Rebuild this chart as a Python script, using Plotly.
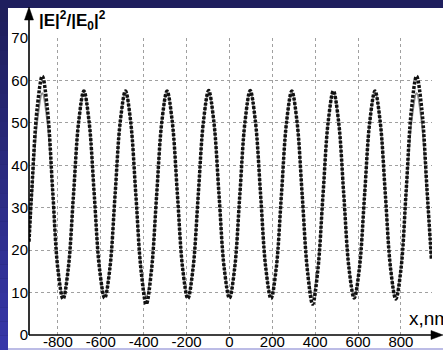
import plotly.graph_objects as go

# ---- data ----
x_nm = [-935, -921.5, -897.25, -873, -848.75, -824.5, -800.25, -776, -751.75, -727.5, -703.25,
        -679, -654.75, -630.5, -606.25, -582, -557.75, -533.5, -509.25, -485, -460.75,
        -436.5, -412.25, -388, -363.75, -339.5, -315.25, -291, -266.75, -242.5, -218.25,
        -194, -169.75, -145.5, -121.25, -97, -72.75, -48.5, -24.25, 0,
        24.25, 48.5, 72.75, 97, 121.25, 145.5, 169.75, 194, 218.25, 242.5, 266.75, 291,
        315.25, 339.5, 363.75, 388, 412.25, 436.5, 460.75, 485, 509.25, 533.5, 557.75,
        582, 606.25, 630.5, 654.75, 679, 703.25, 727.5, 751.75, 776, 800.25, 824.5,
        848.75, 873, 897.25, 921.5, 942]

# numerical result (black dotted)
e_num = [22, 34.5, 53.3, 61.0, 53.0, 34, 15.5, 8.5, 15.7, 33, 50.3,
         57.5, 50.3, 33, 15.7, 8.7, 15.7, 33, 50.3, 57.5, 50.3,
         33, 15.2, 7.3, 15.2, 33, 50.3, 57.5, 50.3, 33, 15.7,
         8.6, 15.7, 33, 50.3, 57.6, 50.3, 33, 15.7, 8.7,
         15.7, 33, 50.3, 57.6, 50.3, 33, 15.7, 8.6, 15.7, 33, 50.3, 57.5,
         50.3, 33, 15.2, 7.3, 15.2, 33, 50.3, 57.5, 50.3, 33, 15.7,
         8.7, 15.7, 33, 50.3, 57.5, 50.3, 33, 15.7, 8.5, 15.5, 34,
         53.0, 61.0, 53.3, 34.5, 18]

# analytical result (grey solid)
e_ana = [22, 33, 50.2, 57.0, 50.2, 33, 16, 9.0, 16, 33, 50.2,
         57.3, 50.2, 33, 16, 9.0, 16, 33, 50.2, 57.3, 50.2,
         33, 16, 9.0, 16, 33, 50.2, 57.3, 50.2, 33, 16,
         9.0, 16, 33, 50.2, 57.3, 50.2, 33, 16, 9.0,
         16, 33, 50.2, 57.3, 50.2, 33, 16, 9.0, 16, 33, 50.2, 57.3,
         50.2, 33, 16, 9.0, 16, 33, 50.2, 57.3, 50.2, 33, 16,
         9.0, 16, 33, 50.2, 57.3, 50.2, 33, 16, 9.0, 16, 33,
         50.2, 57.0, 50.2, 33, 18]

x_ticks = [-800, -600, -400, -200, 0, 200, 400, 600, 800]
x_ticktext = ["-800", "-600", "-400", "-200", "0", "200", "400", "600", "800"]
y_ticks = [0, 10, 20, 30, 40, 50, 60, 70]

# ---- layout geometry (pixels) ----
W, H = 443, 350
L, R, T, B = 29, 11, 38, 15
PW, PH = W - L - R, H - T - B


def px(xp):
    return (xp - L) / PW


def py(yp):
    return (H - B - yp) / PH


FONT = "Liberation Sans, Arial, sans-serif"

fig = go.Figure()
fig.add_trace(go.Scatter(x=x_nm, y=e_ana, mode="lines",
                         line=dict(color="#8c8c8c", width=2, shape="spline", smoothing=1.0),
                         showlegend=False, hoverinfo="skip"))
fig.add_trace(go.Scatter(x=x_nm, y=e_num, mode="lines",
                         line=dict(color="#111111", width=3.5, dash="3px,1.5px",
                                   shape="spline", smoothing=1.0),
                         showlegend=False, hoverinfo="skip"))

shapes = []
shapes.append(dict(type="rect", xref="paper", yref="paper", layer="below",
                   x0=px(0), x1=px(W), y0=py(H), y1=py(0),
                   fillcolor="#24246a", line=dict(width=0)))
n = 24
c0 = (0x20, 0x20, 0x5c)
c1 = (0x36, 0x36, 0xa8)
for i in range(n):
    t = i / (n - 1)
    col = "rgb(%d,%d,%d)" % tuple(int(c0[k] + (c1[k] - c0[k]) * t) for k in range(3))
    y0p = 8 + (H - 8) * i / n
    y1p = 8 + (H - 8) * (i + 1) / n
    shapes.append(dict(type="rect", xref="paper", yref="paper", layer="below",
                       x0=px(0), x1=px(8), y0=py(y1p), y1=py(y0p),
                       fillcolor=col, line=dict(width=0)))
shapes.append(dict(type="rect", xref="paper", yref="paper", layer="below",
                   x0=px(0), x1=px(W), y0=py(8), y1=py(0),
                   fillcolor="#1f1f5e", line=dict(width=0)))
shapes.append(dict(type="rect", xref="paper", yref="paper", layer="below",
                   x0=px(8), x1=px(W), y0=py(348), y1=py(8),
                   fillcolor="white", line=dict(width=0)))
shapes.append(dict(type="rect", xref="paper", yref="paper", layer="below",
                   x0=px(8), x1=px(W), y0=py(350), y1=py(348),
                   fillcolor="#bcbce6", line=dict(width=0)))

# axis lines with arrowheads
shapes.append(dict(type="line", xref="paper", yref="paper", layer="above",
                   x0=px(29), x1=px(29), y0=py(H - B), y1=py(18),
                   line=dict(color="black", width=1.6)))
shapes.append(dict(type="path", xref="paper", yref="paper", layer="above",
                   path="M %f,%f L %f,%f L %f,%f Z" % (px(29), py(7), px(24.5), py(20),
                                                       px(33.5), py(20)),
                   fillcolor="black", line=dict(color="black", width=0.5)))
shapes.append(dict(type="line", xref="paper", yref="paper", layer="above",
                   x0=px(29), x1=px(433), y0=py(H - B), y1=py(H - B),
                   line=dict(color="black", width=1.6)))
shapes.append(dict(type="path", xref="paper", yref="paper", layer="above",
                   path="M %f,%f L %f,%f L %f,%f Z" % (px(443), py(H - B), px(431), py(H - B - 4.5),
                                                       px(431), py(H - B + 4.5)),
                   fillcolor="black", line=dict(color="black", width=0.5)))

annotations = []
annotations.append(dict(xref="paper", yref="paper", x=px(37), y=py(20), xanchor="left",
                        yanchor="middle", showarrow=False,
                        text="<b>|E|<sup>2</sup>/|E<sub>0</sub>|<sup>2</sup></b>",
                        font=dict(family=FONT, size=17, color="black")))
annotations.append(dict(xref="paper", yref="paper", x=px(407), y=py(318), xanchor="left",
                        yanchor="middle", showarrow=False,
                        text="x,nm",
                        font=dict(family=FONT, size=19, color="black")))

fig.update_layout(
    width=W, height=H,
    margin=dict(l=L, r=R, t=T, b=B, pad=0, autoexpand=False),
    paper_bgcolor="white", plot_bgcolor="white",
    shapes=shapes, annotations=annotations,
    xaxis=dict(range=[-935, 945], tickvals=x_ticks, ticktext=x_ticktext,
               showgrid=True, gridcolor="#a0a0a0", griddash="dot", gridwidth=1.3,
               zeroline=False, showline=False, ticks="", automargin=False,
               ticklabelstandoff=-4,
               tickfont=dict(family=FONT, size=15, color="black")),
    yaxis=dict(range=[0, 70], tickvals=y_ticks,
               showgrid=True, gridcolor="#a0a0a0", griddash="dot", gridwidth=1.3,
               zeroline=False, showline=False, ticks="", automargin=False,
               tickfont=dict(family=FONT, size=15, color="black")),
)

fig.write_html("out.html")
